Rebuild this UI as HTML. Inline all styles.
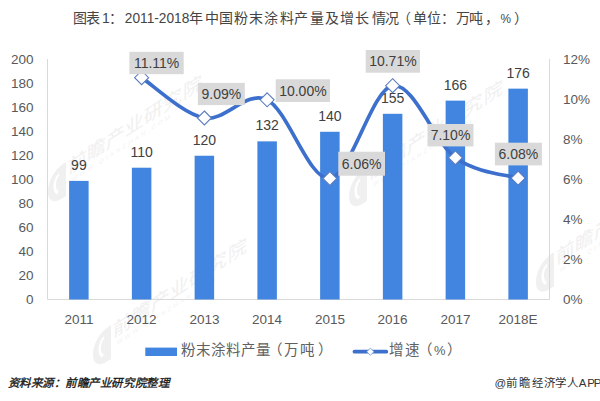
<!DOCTYPE html><html lang="zh-CN"><head><meta charset="utf-8"><style>
html,body{margin:0;padding:0;background:#fff;width:600px;height:401px;overflow:hidden}
svg{display:block}
text{font-family:"Liberation Sans", sans-serif}

</style></head><body>
<svg width="600" height="401" viewBox="0 0 600 401">
<rect width="600" height="401" fill="#fff"/>

<g transform="translate(68,174.6) skewY(-33)"><path d="M-4,-14 C-14,-14 -20,-6 -20,4 C-20,14 -14,20 -6,20 L-2,20 L-2,-14 Z" fill="#F0F0F0"/><path d="M-9,-6 C-14,-4 -15,6 -10,12" fill="none" stroke="#fff" stroke-width="2.5"/><text x="0" y="0" font-size="18.75" fill="#F0F0F0">前瞻产业研究院</text><text x="4" y="10" font-size="6" fill="#F3F3F3" letter-spacing="2.2">WWW.QIANZHAN.COM</text></g>
<g transform="translate(113,337.6) skewY(-33)"><path d="M-4,-14 C-14,-14 -20,-6 -20,4 C-20,14 -14,20 -6,20 L-2,20 L-2,-14 Z" fill="#F0F0F0"/><path d="M-9,-6 C-14,-4 -15,6 -10,12" fill="none" stroke="#fff" stroke-width="2.5"/><text x="0" y="0" font-size="18.75" fill="#F0F0F0">前瞻产业研究院</text><text x="4" y="10" font-size="6" fill="#F3F3F3" letter-spacing="2.2">WWW.QIANZHAN.COM</text></g>
<g transform="translate(369,179.6) skewY(-33)"><path d="M-4,-14 C-14,-14 -20,-6 -20,4 C-20,14 -14,20 -6,20 L-2,20 L-2,-14 Z" fill="#F0F0F0"/><path d="M-9,-6 C-14,-4 -15,6 -10,12" fill="none" stroke="#fff" stroke-width="2.5"/><text x="0" y="0" font-size="18.75" fill="#F0F0F0">前瞻产业研究院</text><text x="4" y="10" font-size="6" fill="#F3F3F3" letter-spacing="2.2">WWW.QIANZHAN.COM</text></g>
<g transform="translate(556,265) skewY(-33)"><path d="M-4,-14 C-14,-14 -20,-6 -20,4 C-20,14 -14,20 -6,20 L-2,20 L-2,-14 Z" fill="#F0F0F0"/><path d="M-9,-6 C-14,-4 -15,6 -10,12" fill="none" stroke="#fff" stroke-width="2.5"/><text x="0" y="0" font-size="18.75" fill="#F0F0F0">前瞻产业研究院</text><text x="4" y="10" font-size="6" fill="#F3F3F3" letter-spacing="2.2">WWW.QIANZHAN.COM</text></g>
<line x1="47.5" y1="59" x2="47.5" y2="299.5" stroke="#D9D9D9" stroke-width="1"/>
<line x1="549.5" y1="59" x2="549.5" y2="299.5" stroke="#D9D9D9" stroke-width="1"/>
<line x1="47.5" y1="299.5" x2="549.5" y2="299.5" stroke="#D9D9D9" stroke-width="1"/>
<text x="33.6" y="304.3" font-size="13.5" fill="#595959" text-anchor="end">0</text>
<text x="33.6" y="280.3" font-size="13.5" fill="#595959" text-anchor="end">20</text>
<text x="33.6" y="256.3" font-size="13.5" fill="#595959" text-anchor="end">40</text>
<text x="33.6" y="232.2" font-size="13.5" fill="#595959" text-anchor="end">60</text>
<text x="33.6" y="208.2" font-size="13.5" fill="#595959" text-anchor="end">80</text>
<text x="33.6" y="184.2" font-size="13.5" fill="#595959" text-anchor="end">100</text>
<text x="33.6" y="160.2" font-size="13.5" fill="#595959" text-anchor="end">120</text>
<text x="33.6" y="136.2" font-size="13.5" fill="#595959" text-anchor="end">140</text>
<text x="33.6" y="112.1" font-size="13.5" fill="#595959" text-anchor="end">160</text>
<text x="33.6" y="88.1" font-size="13.5" fill="#595959" text-anchor="end">180</text>
<text x="33.6" y="64.1" font-size="13.5" fill="#595959" text-anchor="end">200</text>
<text x="563" y="304.3" font-size="13.5" fill="#595959">0%</text>
<text x="563" y="264.3" font-size="13.5" fill="#595959">2%</text>
<text x="563" y="224.2" font-size="13.5" fill="#595959">4%</text>
<text x="563" y="184.2" font-size="13.5" fill="#595959">6%</text>
<text x="563" y="144.2" font-size="13.5" fill="#595959">8%</text>
<text x="563" y="104.1" font-size="13.5" fill="#595959">10%</text>
<text x="563" y="64.1" font-size="13.5" fill="#595959">12%</text>
<text x="78.9" y="323.6" font-size="13.5" fill="#595959" text-anchor="middle">2011</text>
<text x="141.6" y="323.6" font-size="13.5" fill="#595959" text-anchor="middle">2012</text>
<text x="204.4" y="323.6" font-size="13.5" fill="#595959" text-anchor="middle">2013</text>
<text x="267.1" y="323.6" font-size="13.5" fill="#595959" text-anchor="middle">2014</text>
<text x="329.9" y="323.6" font-size="13.5" fill="#595959" text-anchor="middle">2015</text>
<text x="392.6" y="323.6" font-size="13.5" fill="#595959" text-anchor="middle">2016</text>
<text x="455.4" y="323.6" font-size="13.5" fill="#595959" text-anchor="middle">2017</text>
<text x="518.1" y="323.6" font-size="13.5" fill="#595959" text-anchor="middle">2018E</text>
<rect x="69.12" y="180.90" width="19.5" height="118.60" fill="#4285E0"/>
<rect x="131.88" y="167.72" width="19.5" height="131.78" fill="#4285E0"/>
<rect x="194.62" y="155.74" width="19.5" height="143.76" fill="#4285E0"/>
<rect x="257.38" y="141.36" width="19.5" height="158.14" fill="#4285E0"/>
<rect x="320.12" y="131.78" width="19.5" height="167.72" fill="#4285E0"/>
<rect x="382.88" y="113.81" width="19.5" height="185.69" fill="#4285E0"/>
<rect x="445.62" y="100.63" width="19.5" height="198.87" fill="#4285E0"/>
<rect x="508.38" y="88.65" width="19.5" height="210.85" fill="#4285E0"/>
<text x="78.9" y="169.9" font-size="14" fill="#404040" text-anchor="middle">99</text>
<text x="141.6" y="156.7" font-size="14" fill="#404040" text-anchor="middle">110</text>
<text x="204.4" y="144.7" font-size="14" fill="#404040" text-anchor="middle">120</text>
<text x="267.1" y="130.4" font-size="14" fill="#404040" text-anchor="middle">132</text>
<text x="329.9" y="120.8" font-size="14" fill="#404040" text-anchor="middle">140</text>
<text x="392.6" y="102.8" font-size="14" fill="#404040" text-anchor="middle">155</text>
<text x="455.4" y="89.6" font-size="14" fill="#404040" text-anchor="middle">166</text>
<text x="518.1" y="77.7" font-size="14" fill="#404040" text-anchor="middle">176</text>
<path d="M141.62,77.67 C152.08,84.39 183.46,114.31 204.38,118.00 C225.29,121.70 246.21,89.75 267.12,99.83 C288.04,109.92 308.96,180.86 329.88,178.50 C350.79,176.14 371.71,89.12 392.62,85.66 C413.54,82.20 434.46,142.33 455.38,157.74 C476.29,173.14 507.67,174.71 518.12,178.10" fill="none" stroke="#3C70CC" stroke-width="3.7" stroke-linecap="round" stroke-linejoin="round"/>
<path d="M141.62,70.67 L148.62,77.67 L141.62,84.67 L134.62,77.67 Z" fill="#fff" stroke="#5B7DC0" stroke-width="1.1"/>
<path d="M204.38,111.00 L211.38,118.00 L204.38,125.00 L197.38,118.00 Z" fill="#fff" stroke="#5B7DC0" stroke-width="1.1"/>
<path d="M267.12,92.83 L274.12,99.83 L267.12,106.83 L260.12,99.83 Z" fill="#fff" stroke="#5B7DC0" stroke-width="1.1"/>
<path d="M329.88,171.50 L336.88,178.50 L329.88,185.50 L322.88,178.50 Z" fill="#fff" stroke="#5B7DC0" stroke-width="1.1"/>
<path d="M392.62,78.66 L399.62,85.66 L392.62,92.66 L385.62,85.66 Z" fill="#fff" stroke="#5B7DC0" stroke-width="1.1"/>
<path d="M455.38,150.74 L462.38,157.74 L455.38,164.74 L448.38,157.74 Z" fill="#fff" stroke="#5B7DC0" stroke-width="1.1"/>
<path d="M518.12,171.10 L525.12,178.10 L518.12,185.10 L511.12,178.10 Z" fill="#fff" stroke="#5B7DC0" stroke-width="1.1"/>
<rect x="129.4" y="51.8" width="54.3" height="22.4" fill="#D9D9D9"/>
<text x="156.6" y="68.0" font-size="14" fill="#404040" text-anchor="middle">11.11%</text>
<rect x="197.9" y="82.9" width="46.9" height="22.2" fill="#D9D9D9"/>
<text x="221.4" y="99.0" font-size="14" fill="#404040" text-anchor="middle">9.09%</text>
<rect x="275.7" y="79.3" width="54.3" height="22.7" fill="#D9D9D9"/>
<text x="302.9" y="95.7" font-size="14" fill="#404040" text-anchor="middle">10.00%</text>
<rect x="338.3" y="151.7" width="46.7" height="24.0" fill="#D9D9D9"/>
<text x="361.6" y="168.7" font-size="14" fill="#404040" text-anchor="middle">6.06%</text>
<rect x="365.7" y="50" width="54.3" height="22.7" fill="#D9D9D9"/>
<text x="392.9" y="66.3" font-size="14" fill="#404040" text-anchor="middle">10.71%</text>
<rect x="427.5" y="124" width="46.0" height="22.4" fill="#D9D9D9"/>
<text x="450.5" y="140.2" font-size="14" fill="#404040" text-anchor="middle">7.10%</text>
<rect x="494.9" y="142.7" width="47.0" height="22.7" fill="#D9D9D9"/>
<text x="518.4" y="159.1" font-size="14" fill="#404040" text-anchor="middle">6.08%</text>
<rect x="145.3" y="347.6" width="31.7" height="8.4" fill="#4285E0"/>
<text class="cj" x="181.00 196.00 211.00 226.00 241.00 256.00 268.30 283.70 299.70 318.00" y="355.2" font-size="14.5" fill="#606060" >粉末涂料产量（万吨）</text>
<line x1="354.5" y1="351.7" x2="386.3" y2="351.7" stroke="#3C70CC" stroke-width="3.8" stroke-linecap="round"/>
<path d="M370.4,348.1 L374,351.7 L370.4,355.3 L366.8,351.7 Z" fill="#fff" stroke="#6E95DA" stroke-width="0.8"/>
<text class="cj" x="389.30 405.00 417.70" y="355.2" font-size="14.5" fill="#606060" >增速（</text>
<text x="434" y="355.2" font-size="13.5" fill="#606060" textLength="11.5" lengthAdjust="spacingAndGlyphs">%</text>
<text class="cj" x="447.30" y="355.2" font-size="14.5" fill="#606060" >）</text>
<text class="cj" x="72.70 86.30 102.00 108.80" y="23" font-size="14" fill="#444" >图表1：</text>
<text x="124.8" y="23" font-size="14" fill="#444" textLength="64.5" lengthAdjust="spacingAndGlyphs">2011-2018</text>
<text class="cj" x="189.00 204.70 219.00 234.30 248.70 263.90 280.00 294.00 310.00 324.70 339.70 354.70 372.30 384.70 397.30 412.70 427.30 441.30 455.70 469.40 484.70" y="23" font-size="14" fill="#444" >年中国粉末涂料产量及增长情况（单位：万吨，</text>
<text x="500.5" y="23" font-size="12.5" fill="#444" textLength="10.5" lengthAdjust="spacingAndGlyphs">%</text>
<text class="cj" x="513.70" y="23" font-size="14" fill="#444" >）</text>
<text class="cj" x="7.50 19.05 30.60 42.15 53.70 65.25 76.80 88.35 99.90 111.45 123.00 134.55 146.10 157.65" y="387" font-size="11.5" fill="#1a1a1a" font-style="italic" stroke="#1a1a1a" stroke-width="0.35">资料来源：前瞻产业研究院整理</text>
<text class="cj" x="494.50 506.00 519.00 532.30 543.60 555.30 567.00 578.80 587.30 593.80" y="387" font-size="11.5" fill="#333" >@前瞻经济学人APP</text>
</svg></body></html>
